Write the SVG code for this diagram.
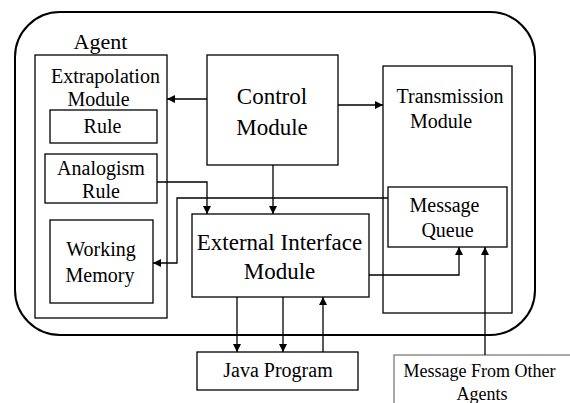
<svg xmlns="http://www.w3.org/2000/svg" width="570" height="403" viewBox="0 0 570 403">
  <style>
    .box { fill: #fff; stroke: #000; stroke-width: 1.3; }
    .frame { fill: #fff; stroke: #000; stroke-width: 2; }
    text { text-anchor: middle; fill: #000; }
    .wire { fill: none; stroke: #000; stroke-width: 1.3; }
  </style>
  <defs>
    <marker id="arrow" markerUnits="userSpaceOnUse" markerWidth="9" markerHeight="8" viewBox="0 0 10 10" refX="10" refY="5" orient="auto">
      <path d="M0,0 L10,5 L0,10 z" fill="#000"/>
    </marker>
  </defs>

  <rect width="570" height="403" fill="#fff"/>

  <g font-family="Liberation Serif, serif" font-size="20">
    <!-- agent boundary -->
    <g id="agent">
      <rect class="frame" x="15" y="12" width="520" height="323" rx="45" ry="45"/>
      <text x="100.5" y="49" font-size="22">Agent</text>
    </g>

    <g id="extrapolation">
      <rect class="box" x="35" y="55" width="132" height="263"/>
      <text x="105.5" y="83">Extrapolation</text>
      <text x="98.5" y="106">Module</text>
    </g>

    <g id="rule">
      <rect class="box" x="50" y="110" width="107" height="33"/>
      <text x="102.5" y="133">Rule</text>
    </g>

    <g id="analogism">
      <rect class="box" x="45" y="154" width="112" height="49"/>
      <text x="101" y="175">Analogism</text>
      <text x="101" y="198">Rule</text>
    </g>

    <g id="working-memory">
      <rect class="box" x="50" y="220" width="103" height="83"/>
      <text x="101" y="256">Working</text>
      <text x="100" y="282">Memory</text>
    </g>

    <g id="control">
      <rect class="box" x="207" y="55" width="131" height="110"/>
      <text x="272" y="104" font-size="23">Control</text>
      <text x="272" y="135" font-size="23">Module</text>
    </g>

    <g id="transmission">
      <rect class="box" x="383" y="66" width="129" height="247"/>
      <text x="450" y="103">Transmission</text>
      <text x="441" y="128">Module</text>
    </g>

    <g id="message-queue">
      <rect class="box" x="388" y="187" width="119" height="60"/>
      <text x="444.5" y="212">Message</text>
      <text x="447.5" y="237">Queue</text>
    </g>

    <g id="external-interface">
      <rect class="box" x="192" y="214" width="177" height="83"/>
      <text x="279.5" y="250" font-size="23">External Interface</text>
      <text x="279.5" y="279" font-size="23">Module</text>
    </g>

    <g id="java-program">
      <rect class="box" x="197" y="352" width="161" height="38"/>
      <text x="278" y="377">Java Program</text>
    </g>

    <g id="other-agents">
      <rect x="394" y="355" width="190" height="60" fill="#fff" stroke="#555" stroke-width="1"/>
      <text x="479.5" y="377" font-size="18" fill="#222">Message From Other</text>
      <text x="482" y="400" font-size="18" fill="#222">Agents</text>
    </g>
  </g>

  <!-- connectors -->
  <g id="connectors">
    <path class="wire" d="M207,99 L167,99" marker-end="url(#arrow)"/>
    <path class="wire" d="M338,105 L383,105" marker-end="url(#arrow)"/>
    <path class="wire" d="M273,165 L273,214" marker-end="url(#arrow)"/>
    <path class="wire" d="M157,182 L207,182 L207,214" marker-end="url(#arrow)"/>
    <path class="wire" d="M388,198 L177,198 L177,263 L153,263" marker-end="url(#arrow)"/>
    <path class="wire" d="M369,275 L459,275 L459,247" marker-end="url(#arrow)"/>
    <path class="wire" d="M237,297 L237,352" marker-end="url(#arrow)"/>
    <path class="wire" d="M283,297 L283,352" marker-end="url(#arrow)"/>
    <path class="wire" d="M323,352 L323,297" marker-end="url(#arrow)"/>
    <path class="wire" d="M485,355 L485,247" marker-end="url(#arrow)"/>
  </g>
</svg>
